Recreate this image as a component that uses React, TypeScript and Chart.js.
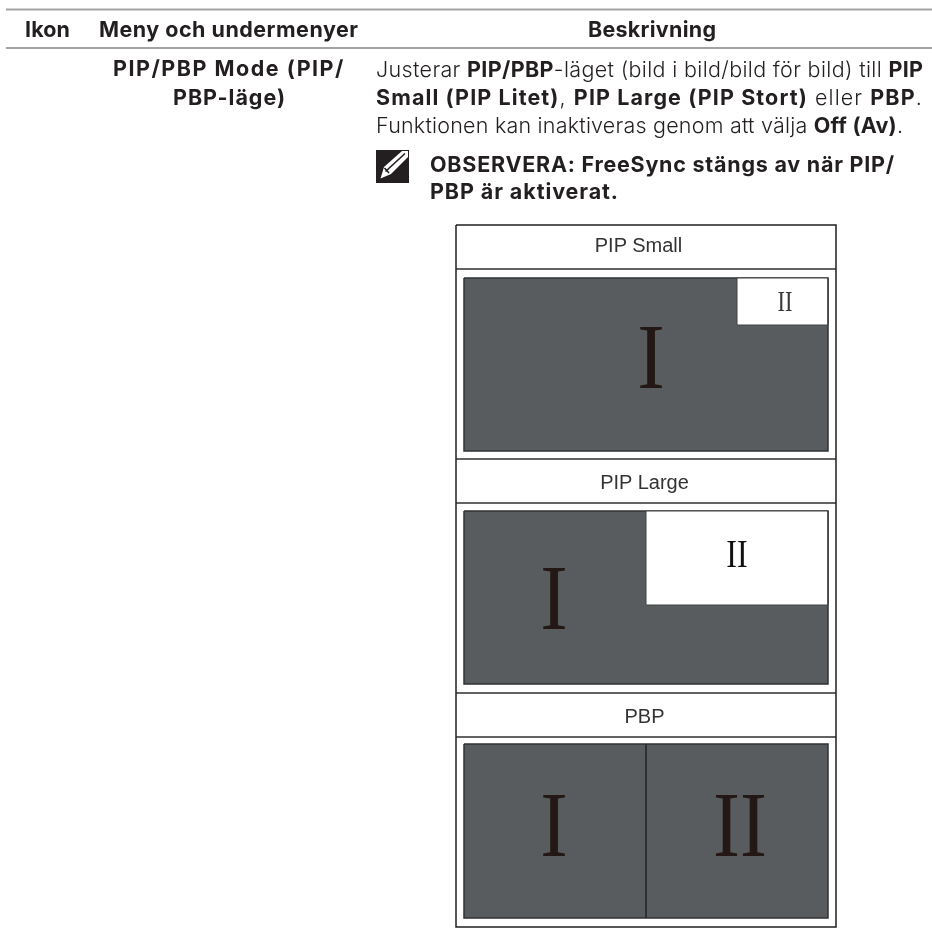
import React, { useEffect, useRef } from "react";
import { Chart, registerables } from "chart.js";

Chart.register(...registerables);

const SANS = "Inter";
const SERIF = "'Liberation Serif'";
const TITLE = "'Liberation Sans'";

// rect values: [x0, y0, x1, y1]
const frame = [456, 225, 836, 927];
const panelRules = [269, 459, 503, 693, 737];
const screens = [
  [464, 278, 828, 451],
  [464, 511, 828, 684],
  [464, 744, 828, 918],
];
const whiteBoxes = [
  [737, 278, 828, 325],
  [646, 511, 828, 605],
];
const noteIcon = [376, 150, 409, 183];
const pbpDividerX = 646;
const pageRules = [9.5, 48];

type Run = [string, boolean];
const headerLabels: [string, number, number][] = [
  ["Ikon", 25, 70],
  ["Meny och undermenyer", 99, 358],
  ["Beskrivning", 588, 716],
];
const menuLines: [string, number, number, number][] = [
  ["PIP/PBP Mode (PIP/", 113, 343, 76],
  ["PBP-läge)", 173, 285, 105],
];
const descLines: [Run[], number, number][] = [
  [[["Justerar ", false], ["PIP/PBP", true], ["-läget (bild i bild/bild för bild) till ", false], ["PIP", true]], 923, 77],
  [[["Small (PIP Litet)", true], [", ", false], ["PIP Large (PIP Stort)", true], [" eller ", false], ["PBP", true], [".", false]], 921, 105],
  [[["Funktionen kan inaktiveras genom att välja ", false], ["Off (Av)", true], [".", false]], 903, 133],
];
const noteLines: [string, number, number][] = [
  ["OBSERVERA: FreeSync stängs av när PIP/", 894, 172],
  ["PBP är aktiverat.", 618, 199],
];
const panelTitles: [string, number, number][] = [
  ["PIP Small", 638.5, 252],
  ["PIP Large", 644.5, 489],
  ["PBP", 644.5, 723],
];
const numerals: [string, number, number, number, string, number][] = [
  ["I", 651, 388, 94, "#231815", 0.88],
  ["II", 785, 311, 30, "#3a3a3a", 0.75],
  ["I", 554, 629, 94, "#231815", 0.88],
  ["II", 737, 567, 40, "#111111", 0.8],
  ["I", 554, 856, 94, "#231815", 0.88],
  ["II", 740, 856, 94, "#231815", 0.86],
];

const rect = (r: number[]) => [
  { x: r[0], y: r[1] },
  { x: r[2], y: r[1] },
  { x: r[2], y: r[3] },
  { x: r[0], y: r[3] },
  { x: r[0], y: r[1] },
];
const seg = (x0: number, y0: number, x1: number, y1: number) => [
  { x: x0, y: y0 },
  { x: x1, y: y1 },
];

const base = { showLine: true, pointRadius: 0, tension: 0, clip: false };

function fitLine(ctx: any, runs: Run[], x0: number, x1: number, y: number, bold: string, reg: string) {
  ctx.letterSpacing = "0px";
  let w = 0;
  let n = 0;
  runs.forEach(([t, b]) => {
    ctx.font = b ? bold : reg;
    w += ctx.measureText(t).width;
    n += t.length;
  });
  const ls = (x1 - x0 - w) / Math.max(1, n - 1);
  ctx.letterSpacing = `${ls}px`;
  let cx = x0;
  runs.forEach(([t, b]) => {
    ctx.font = b ? bold : reg;
    ctx.fillText(t, cx, y);
    cx += ctx.measureText(t).width;
  });
  ctx.letterSpacing = "0px";
}

const textPlugin = {
  id: "pageText",
  afterDatasetsDraw(chart: any) {
    const { ctx, scales } = chart;
    const X = (v: number) => scales.x.getPixelForValue(v);
    const Y = (v: number) => scales.y.getPixelForValue(v);
    ctx.save();
    ctx.textBaseline = "alphabetic";
    ctx.textAlign = "left";
    ctx.fontKerning = "normal";
    ctx.fillStyle = "#231f20";
    const bold = `700 21.5px ${SANS}`;
    const reg = `300 21.5px ${SANS}`;

    headerLabels.forEach(([t, x0, x1]) => fitLine(ctx, [[t, true]], X(x0), X(x1), Y(37), bold, reg));
    menuLines.forEach(([t, x0, x1, y]) => fitLine(ctx, [[t, true]], X(x0), X(x1), Y(y), bold, reg));
    descLines.forEach(([runs, x1, y]) => fitLine(ctx, runs, X(376), X(x1), Y(y), bold, reg));
    noteLines.forEach(([t, x1, y]) => fitLine(ctx, [[t, true]], X(430), X(x1), Y(y), bold, reg));

    ctx.textAlign = "center";
    ctx.font = `400 20px ${TITLE}`;
    ctx.fillStyle = "#333333";
    panelTitles.forEach(([t, x, y]) => ctx.fillText(t, X(x), Y(y)));

    numerals.forEach(([t, x, y, size, color, sx]) => {
      ctx.save();
      ctx.font = `400 ${size}px ${SERIF}`;
      ctx.fillStyle = color;
      ctx.translate(X(x), Y(y));
      ctx.scale(sx, 1);
      ctx.fillText(t, 0, 0);
      ctx.restore();
    });

    // pencil of the note icon
    ctx.fillStyle = "#ffffff";
    ctx.beginPath();
    ctx.moveTo(X(380.5), Y(178.5));
    ctx.lineTo(X(384), Y(167));
    ctx.lineTo(X(402), Y(151));
    ctx.lineTo(X(408), Y(151));
    ctx.lineTo(X(408), Y(157));
    ctx.lineTo(X(391), Y(174));
    ctx.closePath();
    ctx.fill();
    ctx.strokeStyle = "#231f20";
    ctx.lineWidth = 1.6;
    ctx.beginPath();
    ctx.moveTo(X(385.5), Y(171.5));
    ctx.lineTo(X(405), Y(153.5));
    ctx.moveTo(X(384.5), Y(168));
    ctx.lineTo(X(389), Y(173));
    ctx.stroke();
    ctx.restore();
  },
};

export default function App() {
  const ref = useRef<HTMLCanvasElement>(null);
  useEffect(() => {
    const datasets: any[] = [];
    pageRules.forEach((y) =>
      datasets.push({ ...base, data: seg(6, y, 932, y), borderColor: "#a3a3a3", borderWidth: 2 })
    );
    screens.forEach((r) =>
      datasets.push({ ...base, data: rect(r), fill: "shape", backgroundColor: "#595c5e", borderColor: "#303233", borderWidth: 1.5 })
    );
    whiteBoxes.forEach((r) =>
      datasets.push({ ...base, data: rect(r), fill: "shape", backgroundColor: "#ffffff", borderColor: "#404243", borderWidth: 1 })
    );
    datasets.push({ ...base, data: seg(pbpDividerX, screens[2][1], pbpDividerX, screens[2][3]), borderColor: "#2a2b2c", borderWidth: 1 });
    panelRules.forEach((y) =>
      datasets.push({ ...base, data: seg(frame[0], y, frame[2], y), borderColor: "#2f2f2f", borderWidth: 1.5 })
    );
    datasets.push({ ...base, data: rect(frame), borderColor: "#231f20", borderWidth: 1.5 });
    datasets.push({ ...base, data: rect(noteIcon), fill: "shape", backgroundColor: "#231f20", borderColor: "#231f20", borderWidth: 0 });
    // Chart.js paints the first dataset last; list them top-most first.
    datasets.reverse();

    const chart = new Chart(ref.current!, {
      type: "scatter",
      data: { datasets },
      options: {
        animation: false,
        responsive: false,
        layout: { padding: 0 },
        plugins: {
          legend: { display: false },
          tooltip: { enabled: false },
          filler: { drawTime: "beforeDatasetDraw" },
        },
        scales: {
          x: { type: "linear", display: false, min: 0, max: 932 },
          y: { type: "linear", display: false, min: 0, max: 946, reverse: true },
        },
      },
      plugins: [textPlugin],
    } as any);
    return () => chart.destroy();
  }, []);
  return (
    <div style={{ position: "absolute", left: 0, top: 0, width: 932, height: 946, background: "#fff" }}>
      <canvas ref={ref} width={932} height={946} style={{ display: "block" }} />
    </div>
  );
}
